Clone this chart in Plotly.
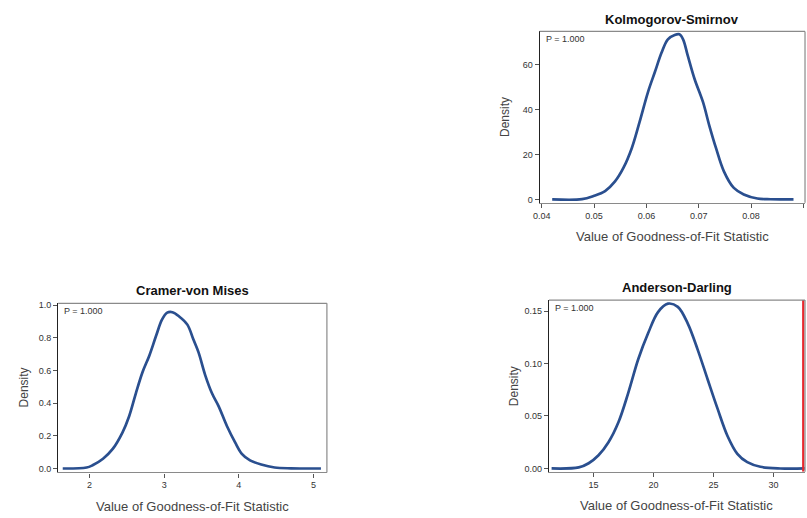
import plotly.graph_objects as go

# Simulated null distributions of the goodness-of-fit statistics (kernel density)
ks_x = [0.0420, 0.0477, 0.0499, 0.0521, 0.0540, 0.0556, 0.0572, 0.0587, 0.0603,
        0.0616, 0.0629, 0.0641, 0.0654, 0.0663, 0.0670, 0.0679, 0.0692, 0.0708,
        0.0720, 0.0733, 0.0748, 0.0767, 0.0786, 0.0812, 0.0837, 0.0881]
ks_y = [0.0, 0.1, 1.5, 3.7, 8.0, 14.0, 22.8, 34.5, 47.8, 56.6, 65.4, 71.3, 73.2,
        73.5, 71.3, 64.0, 53.6, 43.4, 33.0, 22.8, 12.5, 5.1, 2.2, 0.4, 0.05, 0.0]

cvm_x = [1.64, 1.96, 2.04, 2.18, 2.31, 2.44, 2.53, 2.62, 2.71, 2.80, 2.89, 2.97,
         3.04, 3.11, 3.20, 3.31, 3.39, 3.46, 3.55, 3.64, 3.73, 3.84, 3.95, 4.04,
         4.15, 4.30, 4.48, 4.70, 5.10]
cvm_y = [0.0, 0.006, 0.02, 0.06, 0.12, 0.22, 0.32, 0.46, 0.59, 0.69, 0.81, 0.91,
         0.953, 0.956, 0.93, 0.88, 0.79, 0.71, 0.57, 0.46, 0.38, 0.26, 0.16, 0.09,
         0.05, 0.024, 0.006, 0.001, 0.0]

ad_x = [11.5, 13.76, 14.59, 15.41, 16.24, 17.07, 17.89, 18.72, 19.55, 20.37,
        21.2, 22.02, 22.85, 23.68, 24.5, 25.33, 26.16, 26.98, 27.81, 28.9,
        30.56, 32.6]
ad_y = [0.0, 0.001, 0.005, 0.0126, 0.025, 0.044, 0.072, 0.104, 0.129, 0.149,
        0.157, 0.154, 0.138, 0.113, 0.085, 0.057, 0.031, 0.014, 0.006, 0.0016,
        0.0, 0.0]

# Observed Anderson-Darling statistic
ad_observed = 32.47

p_label = "P = 1.000"
titles = ["Kolmogorov-Smirnov", "Cramer-von Mises", "Anderson-Darling"]

W, H = 807, 518
CURVE = "#2a4f8f"
FONT = "Liberation Sans, Arial, sans-serif"


def px(x):
    return x / W


def py(y):
    return 1 - y / H


# panel boxes in pixels: left, right, top, bottom
boxes = [(537.3, 805.0, 28.7, 201.7),
         (51.7, 322.7, 303.3, 474.0),
         (546.7, 805.0, 300.0, 473.3)]

fig = go.Figure()
series = [(ks_x, ks_y), (cvm_x, cvm_y), (ad_x, ad_y)]
for i, (xs, ys) in enumerate(series):
    sfx = "" if i == 0 else str(i + 1)
    fig.add_trace(go.Scatter(x=xs, y=ys, mode="lines", xaxis="x" + sfx, yaxis="y" + sfx,
                             line=dict(color=CURVE, width=2.7, shape="spline", smoothing=1.0),
                             showlegend=False, hoverinfo="skip"))

fig.add_trace(go.Scatter(x=[ad_observed, ad_observed], y=[-0.0031, 0.1604], mode="lines",
                         xaxis="x3", yaxis="y3", line=dict(color="#e8272d", width=2.2),
                         showlegend=False, hoverinfo="skip"))

x_ranges = [[0.0396, 0.0903], [1.58, 5.18], [11.28, 32.62]]
y_ranges = [[-1.5, 74.8], [-0.024, 1.010], [-0.0031, 0.1604]]
x_ticks = [[0.04, 0.05, 0.06, 0.07, 0.08, 0.09], [2, 3, 4, 5], [15, 20, 25, 30]]
x_fmt = [".2f", "d", "d"]
y_ticks = [[0, 20, 40, 60], [0, 0.2, 0.4, 0.6, 0.8, 1.0], [0, 0.05, 0.10, 0.15]]
y_fmt = ["d", ".1f", ".2f"]

tickfont = dict(family=FONT, size=9, color="#333333")
shapes = []
annotations = []
for i, (l, r, t, b) in enumerate(boxes):
    sfx = "" if i == 0 else str(i + 1)
    fig.layout["xaxis" + sfx] = dict(
        domain=[px(l), px(r)], range=x_ranges[i], anchor="y" + sfx,
        tickvals=x_ticks[i], tickformat=x_fmt[i], ticks="outside", ticklen=4,
        tickcolor="#555555", tickfont=tickfont, showgrid=False, zeroline=False,
        showline=True, linecolor="#8a8a8a", linewidth=1.2)
    fig.layout["yaxis" + sfx] = dict(
        domain=[py(b), py(t)], range=y_ranges[i], anchor="x" + sfx,
        tickvals=y_ticks[i], tickformat=y_fmt[i], ticks="outside", ticklen=4,
        tickcolor="#555555", tickfont=tickfont, showgrid=False, zeroline=False,
        showline=True, linecolor="#222222", linewidth=1.2)
    # top and right frame edges
    shapes.append(dict(type="line", xref="paper", yref="paper",
                       x0=px(l), x1=px(r), y0=py(t), y1=py(t),
                       line=dict(color="#8a8a8a", width=1.2)))
    shapes.append(dict(type="line", xref="paper", yref="paper",
                       x0=px(r), x1=px(r), y0=py(t), y1=py(b),
                       line=dict(color="#8a8a8a", width=1.2)))
    cx = (l + r) / 2
    annotations.append(dict(text="<b>%s</b>" % titles[i], x=px(cx), y=py(t - 12.5),
                            xref="paper", yref="paper", showarrow=False,
                            xanchor="center", yanchor="middle",
                            font=dict(family=FONT, size=13, color="#111111")))
    annotations.append(dict(text=p_label, x=px(l + 4), y=py(t + 8),
                            xref="paper", yref="paper", showarrow=False,
                            xanchor="left", yanchor="middle",
                            font=dict(family=FONT, size=9, color="#333333")))
    annotations.append(dict(text="Value of Goodness-of-Fit Statistic", x=px(cx), y=py(b + 34),
                            xref="paper", yref="paper", showarrow=False,
                            xanchor="center", yanchor="middle",
                            font=dict(family=FONT, size=13, color="#444444")))
    annotations.append(dict(text="Density", x=px(l - 35), y=py((t + b) / 2),
                            xref="paper", yref="paper", showarrow=False, textangle=-90,
                            xanchor="center", yanchor="middle",
                            font=dict(family=FONT, size=12, color="#444444")))

fig.update_layout(width=W, height=H, margin=dict(l=0, r=0, t=0, b=0),
                  paper_bgcolor="white", plot_bgcolor="white",
                  shapes=shapes, annotations=annotations)

fig.write_html("out.html")
